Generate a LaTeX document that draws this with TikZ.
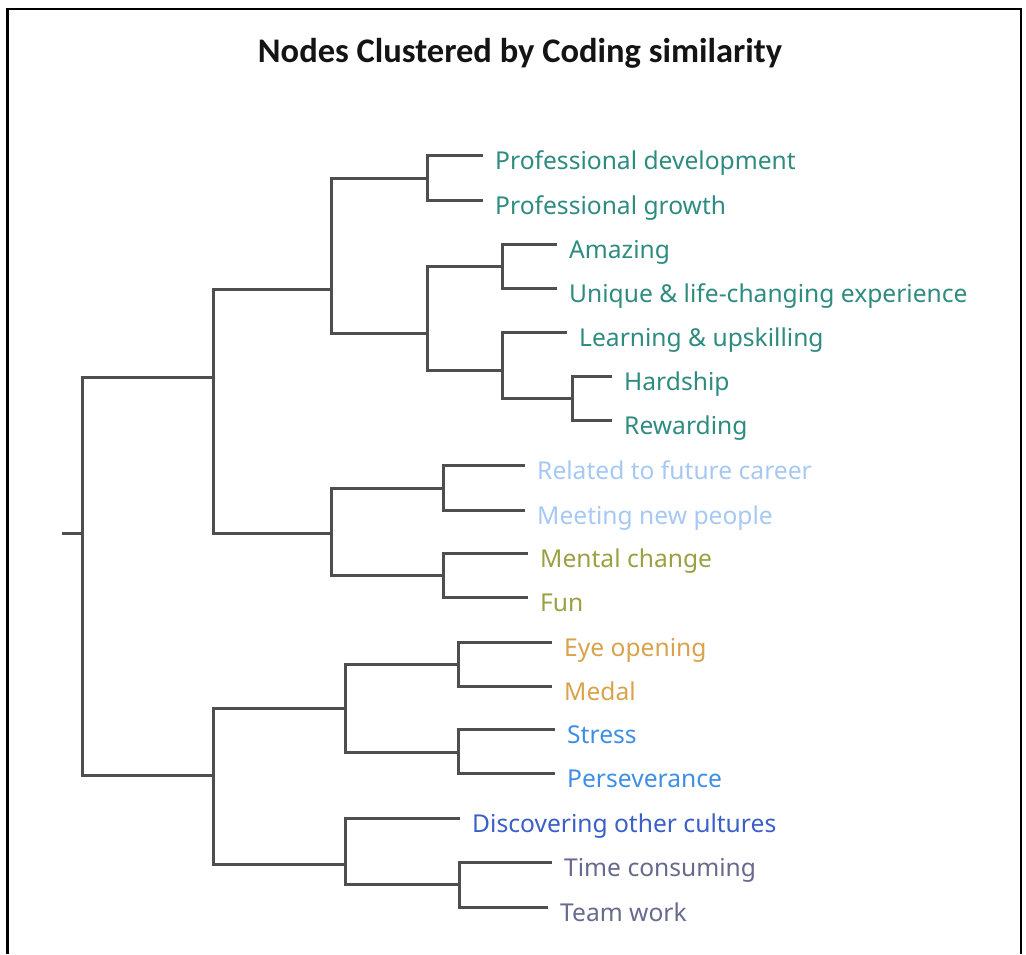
\documentclass[tikz,border=0pt]{standalone}
\usepackage{fontspec}
\setmainfont{Noto Sans}
\newfontfamily\titlefont{Carlito}
\usepackage{tikz}
\definecolor{linegray}{HTML}{4E4E4E}
\definecolor{tealgreen}{HTML}{2E8B80}
\definecolor{paleblue}{HTML}{A6C8F2}
\definecolor{olive}{HTML}{9AA142}
\definecolor{gold}{HTML}{D9A24B}
\definecolor{skyblue}{HTML}{3E8FE3}
\definecolor{royal}{HTML}{3B5FC9}
\definecolor{slate}{HTML}{676A8C}
\tikzset{
    branch/.style={draw=linegray, line width=3pt},
    leaf/.style={anchor=west, inner xsep=12pt, inner ysep=0pt, text height=28pt, text depth=0pt,
        font=\fontsize{24.6}{28}\selectfont},
    heading/.style={anchor=base, font=\titlefont\bfseries\fontsize{34.5}{38}\selectfont, text=black!92}
}

\begin{document}
\begin{tikzpicture}[x=1pt, y=-1pt]
            \useasboundingbox (0,0) rectangle (1026,954);
            \draw[line width=2.7pt] (7.5,954) -- (7.5,9) -- (1021,9) -- (1021,954);
            \node[heading] (title) at (520,62) {Nodes Clustered by Coding similarity};

            % junctions of the tree
            \coordinate (stub) at (62,533);
            \coordinate (r) at (82,533);
            \coordinate (u) at (213,377);
            \coordinate (l) at (213,775);
            \coordinate (uu) at (331,289);
            \coordinate (ul) at (331,533);
            \coordinate (lu) at (345,708);
            \coordinate (ll) at (345,864);
            \coordinate (a1) at (427,178);
            \coordinate (a2) at (427,333);
            \coordinate (b1) at (502,266);
            \coordinate (b2) at (502,370);
            \coordinate (c) at (572,398);
            \coordinate (d1) at (443,488);
            \coordinate (d2) at (443,575);
            \coordinate (e1) at (458,664);
            \coordinate (e2) at (458,752);
            \coordinate (f) at (459,884);

            % leaves
            \node[leaf, text=tealgreen] (pdev) at (483,155) {Professional development};
            \node[leaf, text=tealgreen] (pgrow) at (483,200) {Professional growth};
            \node[leaf, text=tealgreen] (amaz) at (557,244) {Amazing};
            \node[leaf, text=tealgreen] (uniq) at (557,288) {Unique \& life-changing experience};
            \node[leaf, text=tealgreen] (learn) at (567,332) {Learning \& upskilling};
            \node[leaf, text=tealgreen] (hard) at (612,376) {Hardship};
            \node[leaf, text=tealgreen] (rew) at (612,420) {Rewarding};
            \node[leaf, text=paleblue] (fut) at (525,465) {Related to future career};
            \node[leaf, text=paleblue] (meet) at (525,510) {Meeting new people};
            \node[leaf, text=olive] (ment) at (528,553) {Mental change};
            \node[leaf, text=olive] (fun) at (528,597) {Fun};
            \node[leaf, text=gold] (eye) at (552,642) {Eye opening};
            \node[leaf, text=gold] (medal) at (552,686) {Medal};
            \node[leaf, text=skyblue] (stress) at (555,729) {Stress};
            \node[leaf, text=skyblue] (pers) at (555,773) {Perseverance};
            \node[leaf, text=royal] (disc) at (460,818) {Discovering other cultures};
            \node[leaf, text=slate] (time) at (552,862) {Time consuming};
            \node[leaf, text=slate] (team) at (548,907) {Team work};

            \draw[branch] (stub) -- (r);
            \draw[branch] (r) |- (u);
            \draw[branch] (r) |- (l);
            \draw[branch] (u) |- (uu);
            \draw[branch] (u) |- (ul);
            \draw[branch] (uu) |- (a1);
            \draw[branch] (uu) |- (a2);
            \draw[branch] (a1) |- (pdev);
            \draw[branch] (a1) |- (pgrow);
            \draw[branch] (a2) |- (b1);
            \draw[branch] (a2) |- (b2);
            \draw[branch] (b1) |- (amaz);
            \draw[branch] (b1) |- (uniq);
            \draw[branch] (b2) |- (learn);
            \draw[branch] (b2) |- (c);
            \draw[branch] (c) |- (hard);
            \draw[branch] (c) |- (rew);
            \draw[branch] (ul) |- (d1);
            \draw[branch] (ul) |- (d2);
            \draw[branch] (d1) |- (fut);
            \draw[branch] (d1) |- (meet);
            \draw[branch] (d2) |- (ment);
            \draw[branch] (d2) |- (fun);
            \draw[branch] (l) |- (lu);
            \draw[branch] (l) |- (ll);
            \draw[branch] (lu) |- (e1);
            \draw[branch] (lu) |- (e2);
            \draw[branch] (e1) |- (eye);
            \draw[branch] (e1) |- (medal);
            \draw[branch] (e2) |- (stress);
            \draw[branch] (e2) |- (pers);
            \draw[branch] (ll) |- (disc);
            \draw[branch] (ll) |- (f);
            \draw[branch] (f) |- (time);
            \draw[branch] (f) |- (team);
        \end{tikzpicture}
\end{document}
